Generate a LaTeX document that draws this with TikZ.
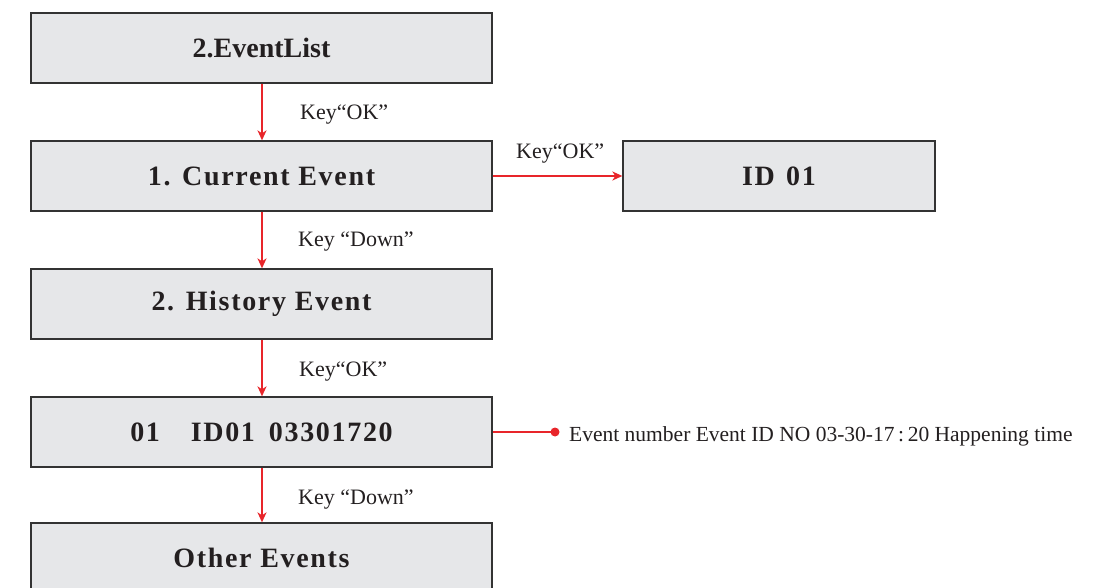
\documentclass[tikz,border=0pt]{standalone}
\usepackage{fontspec}
\setmainfont{Liberation Serif}
\newfontfamily\boxfont[LetterSpace=6]{Liberation Serif}
\usetikzlibrary{arrows.meta}
\definecolor{boxfill}{HTML}{E6E7E9}
\definecolor{boxline}{HTML}{333333}
\definecolor{arrred}{HTML}{E8252A}
\definecolor{txt}{HTML}{231F20}
\tikzset{
  stepbox/.style={draw=boxline, line width=1.3pt, fill=boxfill, minimum width=461pt, minimum height=70pt, inner sep=0pt, font=\boxfont\bfseries\fontsize{28}{30}\selectfont, text=txt},
  plainbox/.style={stepbox, font=\bfseries\fontsize{28}{30}\selectfont},
  idbox/.style={stepbox, minimum width=312pt},
  redline/.style={draw=arrred, line width=1.7pt},
  redarrow/.style={redline, -{Stealth[length=10pt,width=9pt,inset=3pt]}},
  keylabel/.style={anchor=west, inner sep=0pt, font=\fontsize{22}{24}\selectfont, text=txt}
}
\begin{document}
\begin{tikzpicture}[x=1pt,y=-1pt]
\useasboundingbox (0,0) rectangle (1101,588);
\node[plainbox] (b1) at (261.5,48) {2.EventList};
\node[stepbox] (b2) at (261.5,176) {1. Current Event};
\node[stepbox] (b3) at (261.5,304) {2. History Event};
\node[stepbox] (b4) at (261.5,432) {01\hspace{1.1em}ID01\hspace{0.5em}03301720};
\node[stepbox] (b5) at (261.5,558) {Other Events};
\node[idbox] (id) at (779,176) {ID\hspace{0.4em}01};
\draw[redarrow] ([xshift=0.5pt]b1.south) -- ([xshift=0.5pt]b2.north);
\draw[redarrow] ([xshift=0.5pt]b2.south) -- ([xshift=0.5pt]b3.north);
\draw[redarrow] ([xshift=0.5pt]b3.south) -- ([xshift=0.5pt]b4.north);
\draw[redarrow] ([xshift=0.5pt]b4.south) -- ([xshift=0.5pt]b5.north);
\draw[redarrow] (b2.east) -- (id.west);
\node[keylabel] (l1) at (300,114.5) {Key“OK”};
\node[keylabel] (l2) at (298,241.5) {Key “Down”};
\node[keylabel] (l3) at (299,371.5) {Key“OK”};
\node[keylabel] (l4) at (298,499.5) {Key “Down”};
\node[keylabel] (l5) at (516,153.5) {Key“OK”};
\coordinate (dot) at (555,432);
\draw[redline] (b4.east) -- (dot);
\fill[arrred] (dot) circle (4.5pt);
\node[keylabel, font=\fontsize{21.5}{24}\selectfont] (ev) at (569,436) {Event number Event ID NO 03-30-17\,:\,20 Happening time};
\end{tikzpicture}
\end{document}
